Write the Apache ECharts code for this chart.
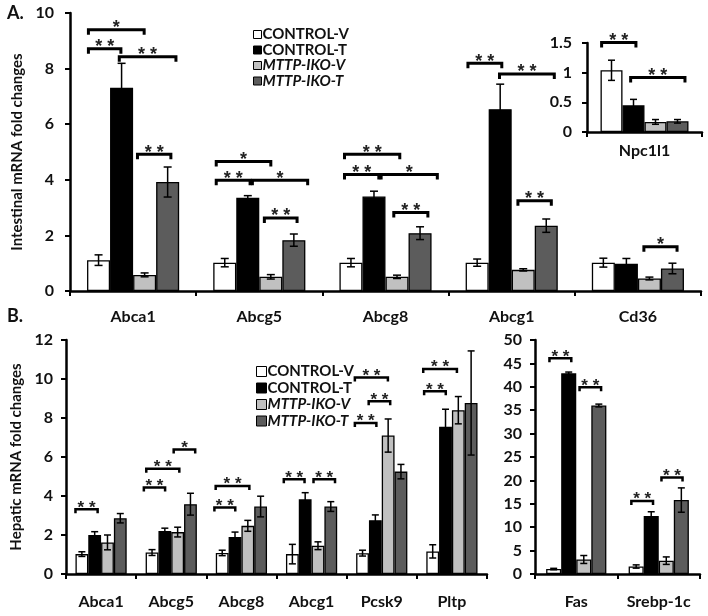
<!DOCTYPE html>
<html><head><meta charset="utf-8">
<script src="https://cdn.jsdelivr.net/npm/echarts@6/dist/echarts.min.js"></script>
<style>html,body{margin:0;padding:0;background:#fff}#c{width:708px;height:616px}</style>
</head><body><div id="c"></div>
<script>
// ---------- data ----------
const groups = ['CONTROL-V', 'CONTROL-T', 'MTTP-IKO-V', 'MTTP-IKO-T'];

// Panel A – intestinal
const catsA = ['Abca1', 'Abcg5', 'Abcg8', 'Abcg1', 'Cd36'];
const ctrlV_A = [1.11, 1.02, 1.02, 1.02, 1.02];
const ctrlV_A_err = [0.19, 0.15, 0.15, 0.13, 0.16];
const ctrlT_A = [7.31, 3.35, 3.40, 6.54, 0.98];
const ctrlT_A_err = [0.88, 0.08, 0.19, 0.90, 0.19];
const ikoV_A = [0.58, 0.51, 0.51, 0.76, 0.45];
const ikoV_A_err = [0.07, 0.08, 0.06, 0.04, 0.05];
const ikoT_A = [3.92, 1.83, 2.08, 2.35, 0.81];
const ikoT_A_err = [0.54, 0.22, 0.23, 0.24, 0.19];
// [category, from bar slot, to bar slot, level, label]
const sigA = [
  [0, -0.44, 1.98, 9.40, '*'], [0, -0.44, 0.97, 8.71, '**'], [0, 0.90, 3.36, 8.43, '**'], [0, 1.69, 3.14, 4.92, '**'],
  [1, -0.37, 2.00, 4.66, '*'], [1, -0.37, 1.10, 3.98, '**'], [1, 1.20, 3.60, 3.98, '*'], [1, 1.72, 3.14, 2.63, '**'],
  [2, -0.28, 2.12, 4.92, '**'], [2, -0.28, 1.21, 4.19, '**'], [2, 1.31, 3.75, 4.19, '*'], [2, 1.86, 3.34, 2.82, '**'],
  [3, -0.40, 1.07, 8.19, '**'], [3, 0.97, 3.35, 7.81, '**'], [3, 1.77, 3.22, 3.25, '**'],
  [4, 1.76, 3.20, 1.59, '*']
];

// Panel A inset – Npc1l1
const catsIn = ['Npc1l1'];
const ctrlV_In = [1.04], ctrlV_In_err = [0.17];
const ctrlT_In = [0.45], ctrlT_In_err = [0.10];
const ikoV_In = [0.17], ikoV_In_err = [0.04];
const ikoT_In = [0.18], ikoT_In_err = [0.03];
const sigIn = [[0, -0.45, 1.11, 1.51, '**'], [0, 0.87, 3.34, 0.92, '**']];

// Panel B – hepatic (left)
const catsBL = ['Abca1', 'Abcg5', 'Abcg8', 'Abcg1', 'Pcsk9', 'Pltp'];
const ctrlV_BL = [1.02, 1.10, 1.08, 1.02, 1.07, 1.16];
const ctrlV_BL_err = [0.12, 0.15, 0.14, 0.50, 0.15, 0.34];
const ctrlT_BL = [2.00, 2.20, 1.90, 3.83, 2.76, 7.55];
const ctrlT_BL_err = [0.17, 0.15, 0.25, 0.34, 0.27, 0.90];
const ikoV_BL = [1.62, 2.15, 2.47, 1.45, 7.10, 8.40];
const ikoV_BL_err = [0.38, 0.25, 0.28, 0.20, 0.85, 0.70];
const ikoT_BL = [2.86, 3.58, 3.46, 3.46, 5.25, 8.77];
const ikoT_BL_err = [0.24, 0.56, 0.53, 0.25, 0.37, 2.67];
const sigBL = [
  [0, -0.50, 1.23, 3.32, '**'],
  [1, -0.64, 1.02, 4.43, '**'], [1, -0.45, 2.13, 5.40, '**'], [1, 1.69, 3.37, 6.39, '*'],
  [2, -0.61, 1.02, 3.41, '**'], [2, -0.51, 2.12, 4.51, '**'],
  [3, -0.67, 0.95, 4.86, '**'], [3, 1.65, 3.33, 4.86, '**'],
  [4, -0.60, 1.08, 7.75, '**'], [4, 0.48, 2.16, 8.86, '**'], [4, -0.60, 1.98, 10.08, '**'],
  [5, -0.67, 1.02, 9.37, '**'], [5, -0.74, 1.89, 10.51, '**']
];

// Panel B – hepatic (right)
const catsBR = ['Fas', 'Srebp-1c'];
const ctrlV_BR = [1.06, 1.60], ctrlV_BR_err = [0.15, 0.35];
const ctrlT_BR = [42.9, 12.4], ctrlT_BR_err = [0.25, 0.90];
const ikoV_BR = [3.10, 2.85], ikoV_BR_err = [0.85, 0.80];
const ikoT_BR = [36.0, 15.8], ikoT_BR_err = [0.30, 2.60];
const sigBR = [[0, -0.28, 1.17, 46.1, '**'], [0, 1.72, 3.15, 39.9, '**'], [1, -0.32, 1.12, 15.6, '**'], [1, 1.68, 3.08, 20.6, '**']];

// ---------- styling ----------
const F = 'Lato';
const FS = 'Liberation Sans';
const colors = ['#ffffff', '#000000', '#c0c0c0', '#5c5c5c'];

const panels = [
  { cats: catsA, vals: [ctrlV_A, ctrlT_A, ikoV_A, ikoT_A], errs: [ctrlV_A_err, ctrlT_A_err, ikoV_A_err, ikoT_A_err], sig: sigA,
    grid: { left: 70, top: 13, width: 631, height: 278 }, max: 10, interval: 2, gap: 0.27, cap: 8, tick: 5, lw: 3, star: 18,
    name: 'Intestinal mRNA fold changes', nameGap: 40, ylm: 16, xlm: 18 },
  { cats: catsIn, vals: [ctrlV_In, ctrlT_In, ikoV_In, ikoT_In], errs: [ctrlV_In_err, ctrlT_In_err, ikoV_In_err, ikoT_In_err], sig: sigIn,
    grid: { left: 587, top: 43, width: 115, height: 89 }, max: 1.5, interval: 0.5, gap: 0.235, cap: 7, tick: 5, lw: 3, star: 18,
    name: '', nameGap: 0, ylm: 15, xlm: 11 },
  { cats: catsBL, vals: [ctrlV_BL, ctrlT_BL, ikoV_BL, ikoT_BL], errs: [ctrlV_BL_err, ctrlT_BL_err, ikoV_BL_err, ikoT_BL_err], sig: sigBL,
    grid: { left: 66, top: 340, width: 421, height: 234 }, max: 12, interval: 2, gap: 0.27, cap: 7, tick: 4, lw: 2.5, star: 17,
    name: 'Hepatic mRNA fold changes', nameGap: 37, ylm: 13, xlm: 20 },
  { cats: catsBR, vals: [ctrlV_BR, ctrlT_BR, ikoV_BR, ikoT_BR], errs: [ctrlV_BR_err, ctrlT_BR_err, ikoV_BR_err, ikoT_BR_err], sig: sigBR,
    grid: { left: 535, top: 340, width: 165, height: 234 }, max: 50, interval: 5, gap: 0.27, cap: 7, tick: 4, lw: 2.5, star: 17,
    name: '', nameGap: 0, ylm: 13, xlm: 20 }
];

function errRender(gap, cap) {
  return function (params, api) {
    const cat = api.value(0), slot = api.value(1), m = api.value(2), e = api.value(3);
    const c = api.coord([cat, m]);
    const band = api.size([1, 0])[0];
    const bw = band * (1 - gap) / 4;
    const x = c[0] + (slot - 1.5) * bw;
    const yt = api.coord([cat, m + e])[1];
    const yb = api.coord([cat, Math.max(0, m - e)])[1];
    const st = { stroke: '#000', lineWidth: 1.5 };
    return { type: 'group', children: [
      { type: 'line', shape: { x1: x, y1: yt, x2: x, y2: yb }, style: st },
      { type: 'line', shape: { x1: x - cap / 2, y1: yt, x2: x + cap / 2, y2: yt }, style: st },
      { type: 'line', shape: { x1: x - cap / 2, y1: yb, x2: x + cap / 2, y2: yb }, style: st }
    ] };
  };
}
function sigRender(gap, tick, lw, star, labels) {
  return function (params, api) {
    const cat = api.value(0), a = api.value(1), b = api.value(2), lv = api.value(3);
    const c = api.coord([cat, lv]);
    const band = api.size([1, 0])[0];
    const bw = band * (1 - gap) / 4;
    const x1 = c[0] + (a - 1.5) * bw, x2 = c[0] + (b - 1.5) * bw, y = c[1];
    const lab = labels[params.dataIndex] === '**' ? '* *' : '*';
    return { type: 'group', children: [
      { type: 'polyline', shape: { points: [[x1, y + tick], [x1, y], [x2, y], [x2, y + tick]] },
        style: { stroke: '#000', lineWidth: lw, fill: null, lineJoin: 'miter' } },
      { type: 'text', x: (x1 + x2) / 2, y: y + star * 0.42,
        style: { text: lab, fontFamily: FS, fontWeight: 'bold', fontSize: star, fill: '#222', align: 'center', verticalAlign: 'bottom' } }
    ] };
  };
}

const grid = [], xAxis = [], yAxis = [], series = [];
panels.forEach((p, gi) => {
  grid.push(Object.assign({ containLabel: false }, p.grid));
  xAxis.push({ type: 'category', gridIndex: gi, data: p.cats,
    axisLine: { lineStyle: { color: '#000', width: 2.5 } },
    axisTick: { show: true, length: 5, lineStyle: { color: '#000', width: 2 } },
    axisLabel: { fontFamily: F, fontWeight: 'bold', fontSize: 16, color: '#111', margin: p.xlm, interval: 0 },
    splitLine: { show: false } });
  yAxis.push({ type: 'value', gridIndex: gi, min: 0, max: p.max, interval: p.interval,
    name: p.name, nameLocation: 'middle', nameGap: p.nameGap, nameRotate: 90,
    nameTextStyle: { fontFamily: F, fontSize: 15, color: '#111', fontWeight: 'bold' },
    axisLine: { show: true, lineStyle: { color: '#000', width: 2.5 } },
    axisTick: { show: true, length: 5, lineStyle: { color: '#000', width: 2 } },
    axisLabel: { fontFamily: F, fontWeight: 'bold', fontSize: 16, color: '#111', margin: p.ylm },
    splitLine: { show: false } });
  groups.forEach((g, si) => {
    series.push({ type: 'bar', name: g, xAxisIndex: gi, yAxisIndex: gi, data: p.vals[si],
      barGap: '0%', barCategoryGap: (p.gap * 100) + '%',
      itemStyle: { color: colors[si], borderColor: '#000', borderWidth: 1.3 },
      silent: true, animation: false });
  });
  const errData = [];
  p.cats.forEach((c, ci) => { for (let si = 0; si < 4; si++) errData.push([ci, si, p.vals[si][ci], p.errs[si][ci]]); });
  series.push({ type: 'custom', xAxisIndex: gi, yAxisIndex: gi, data: errData, encode: { x: 0, y: 2 },
    renderItem: errRender(p.gap, p.cap), silent: true, animation: false, z: 5 });
  series.push({ type: 'custom', xAxisIndex: gi, yAxisIndex: gi, data: p.sig.map(s => s.slice(0, 4)), encode: { x: 0, y: 3 },
    renderItem: sigRender(p.gap, p.tick, p.lw, p.star, p.sig.map(s => s[4])), silent: true, animation: false, z: 6 });
});

function legendData() {
  return groups.map((g, i) => i >= 2 ? { name: g, textStyle: { fontStyle: 'italic' } } : { name: g });
}

const option = {
  backgroundColor: '#fff',
  animation: false,
  grid, xAxis, yAxis, series,
  legend: [
    { left: 253, top: 27, orient: 'vertical', icon: 'rect', itemWidth: 8, itemHeight: 8, itemGap: 0.5, padding: 0,
      selectedMode: false, data: legendData(),
      itemStyle: { borderColor: '#000', borderWidth: 1 },
      textStyle: { fontFamily: F, fontWeight: 'bold', fontSize: 15, lineHeight: 10, color: '#111', padding: [0, 0, 0, -4] } },
    { left: 256, top: 364, orient: 'vertical', icon: 'rect', itemWidth: 10, itemHeight: 10, itemGap: 1.5, padding: 0,
      selectedMode: false, data: legendData(),
      itemStyle: { borderColor: '#000', borderWidth: 1 },
      textStyle: { fontFamily: F, fontWeight: 'bold', fontSize: 15, lineHeight: 12, color: '#111', padding: [0, 0, 0, -4] } }
  ],
  graphic: [
    { type: 'text', left: 7, top: 4, style: { text: 'A.', fontFamily: F, fontWeight: 'bold', fontSize: 18, fill: '#111' } },
    { type: 'text', left: 7, top: 307, style: { text: 'B.', fontFamily: F, fontWeight: 'bold', fontSize: 18, fill: '#111' } }
  ]
};
const chart = echarts.init(document.getElementById('c'), null, { renderer: 'canvas' });
chart.setOption(option);
</script></body></html>
